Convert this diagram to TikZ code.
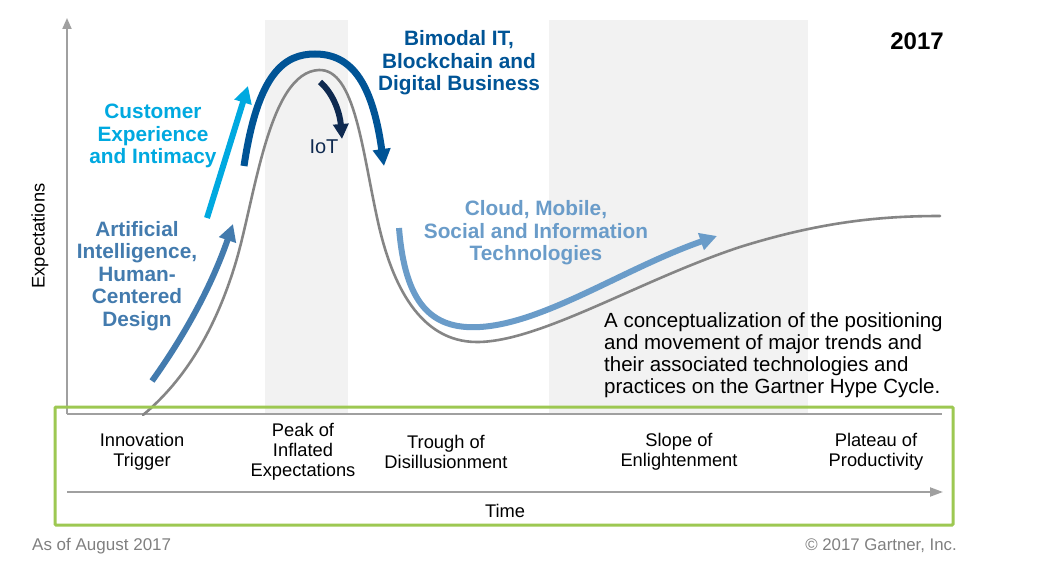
\documentclass[tikz,border=0pt]{standalone}
\usepackage{fontspec}
\setmainfont{Liberation Sans}
\usetikzlibrary{arrows.meta}
\definecolor{band}{HTML}{F2F2F2}
\definecolor{curvegray}{HTML}{858585}
\definecolor{axisgray}{HTML}{A0A0A0}
\definecolor{cxblue}{HTML}{00A9E0}
\definecolor{aiblue}{HTML}{437BAE}
\definecolor{bmblue}{HTML}{005496}
\definecolor{iotblue}{HTML}{0F2A50}
\definecolor{cloudblue}{HTML}{6A9CC9}
\definecolor{frame}{HTML}{9DC852}
\definecolor{footgray}{HTML}{808080}
\tikzset{
  phase/.style={align=center,font=\fontsize{18.3}{20}\selectfont,text=black,inner sep=0pt},
  trend/.style={align=center,font=\fontsize{20.8}{22.5}\selectfont\bfseries,inner sep=0pt},
  bigarrow/.style={line width=6pt,-{Triangle[length=17pt,width=17pt]}},
}
\begin{document}
\begin{tikzpicture}[x=1pt,y=-1pt]
\useasboundingbox (0,0) rectangle (1046,578);
\fill[white] (0,0) rectangle (1046,578);
% bands
\fill[band] (265,20) rectangle (348,414);
\fill[band] (549,20) rectangle (808,414);
% axes
\coordinate (yb) at (67,414);
\coordinate (yt) at (67,18);
\coordinate (xr) at (942,414);
\draw[axisgray,line width=2pt,-{Triangle[length=11pt,width=9pt]}] (yb) -- (yt);
\draw[axisgray,line width=2pt] (yb) -- (xr);
\node[rotate=90,font=\fontsize{18.3}{20}\selectfont] (ylab) at (40,236) {Expectations};
% hype curve
\draw[curvegray,line width=2.6pt,line cap=round]
  (143,415) .. controls (185,380) and (215,330) .. (235,265)
  .. controls (255,200) and (268,72) .. (319,70)
  .. controls (355,69) and (362,150) .. (378,222)
  .. controls (392,285) and (420,342) .. (477,342)
  .. controls (540,342) and (640,280) .. (740,247)
  .. controls (820,222) and (880,216) .. (940,216);
% trend arrows
\draw[bigarrow,aiblue] (152,381) .. controls (185,335) and (212,285) .. (233,224);
\draw[bigarrow,cxblue] (207,218) -- (248,86);
\draw[bigarrow,bmblue,line width=7pt] (244,166) .. controls (258,72) and (285,54) .. (315,54) .. controls (350,54) and (372,80) .. (384,166);
\draw[iotblue,line width=6pt,-{Triangle[length=15pt,width=15pt]}] (320,82) .. controls (334,94) and (340,114) .. (342,139);
\draw[bigarrow,cloudblue] (399,228) .. controls (405,302) and (430,330) .. (480,327) .. controls (545,323) and (625,268) .. (717,236);
% trend labels
\node[trend,text=cxblue] (cx) at (153,136) {Customer\\Experience\\and Intimacy};
\node[trend,text=aiblue] (ai) at (137,276) {Artificial\\Intelligence,\\Human-\\Centered\\Design};
\node[font=\fontsize{20}{22}\selectfont,text=iotblue] (iot) at (324,147) {IoT};
\node[trend,text=bmblue] (bm) at (459,63) {Bimodal IT,\\Blockchain and\\Digital Business};
\node[trend,text=cloudblue] (cl) at (536,233) {Cloud, Mobile,\\Social and Information\\Technologies};
\node[font=\fontsize{24}{28}\selectfont\bfseries] (yr) at (917,41) {2017};
\node[align=left,anchor=north west,inner sep=0pt,font=\fontsize{20.5}{22.3}\selectfont] (desc) at (604,312) {A conceptualization of the positioning\\and movement of major trends and\\their associated technologies and\\practices on the Gartner Hype Cycle.};
% frame
\draw[frame,line width=3pt,rounded corners=1pt] (55,407) rectangle (953,525);
\coordinate (tl) at (67,492);
\coordinate (tr) at (943,492);
\draw[axisgray,line width=2pt,-{Triangle[length=13pt,width=9pt]}] (tl) -- (tr);
\node[phase] (p1) at (142,452) {Innovation\\Trigger};
\node[phase] (p2) at (303,452) {Peak of\\Inflated\\Expectations};
\node[phase] (p3) at (446,452) {Trough of\\Disillusionment};
\node[phase] (p4) at (679,452) {Slope of\\Enlightenment};
\node[phase] (p5) at (876,452) {Plateau of\\Productivity};
\node[phase] (time) at (505,511) {Time};
% footer
\node[anchor=west,inner sep=0pt,text=footgray,font=\fontsize{17}{19}\selectfont] (asof) at (32,546) {As of August 2017};
\node[anchor=east,inner sep=0pt,text=footgray,font=\fontsize{16.8}{19}\selectfont] (copy) at (957,546) {© 2017 Gartner, Inc.};
\end{tikzpicture}
\end{document}
